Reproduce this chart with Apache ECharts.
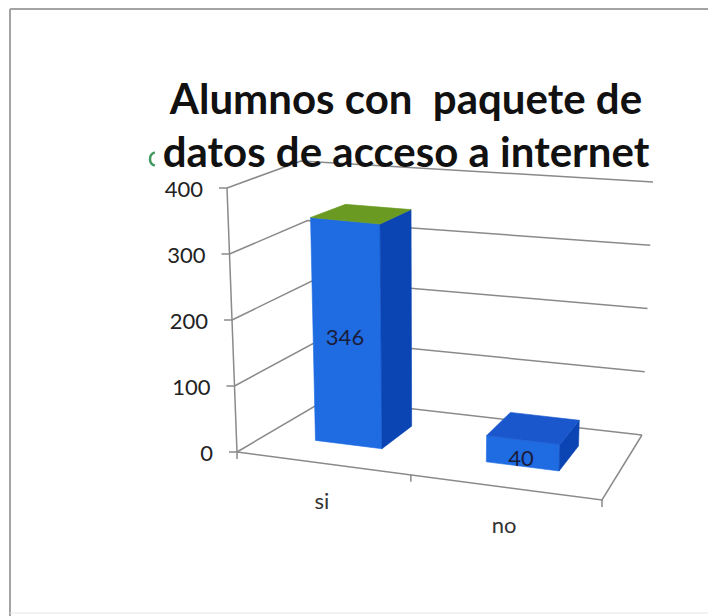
<!DOCTYPE html>
<html>
<head>
<meta charset="utf-8">
<script src="https://cdn.jsdelivr.net/npm/echarts@6/dist/echarts.min.js"></script>
<style>
  html, body { margin: 0; padding: 0; background: #ffffff; }
  #chart { width: 708px; height: 616px; }
</style>
</head>
<body>
<div id="chart"></div>
<script>
// ---- data ----
const categories = ['si', 'no'];
const values = [346, 40];
const yTicks = [0, 100, 200, 300, 400];
const yTickLabels = ['0', '100', '200', '300', '400'];
const titleLines = ['Alumnos con  paquete de', 'datos de acceso a internet'];

// ---- 3D box layout: screen corners of the floor (value 0) and of the top plane (axis max) ----
const box = {
  floor: { fl: [237, 452], fr: [602, 500], br: [642, 435], bl: [327, 399] },
  top:   { fl: [227, 188], fr: [602, 228], br: [653, 182], bl: [301, 161] }
};
const barWidthRatio = 0.4;          // share of a category band taken by a column
const barDepth = [0.3, 0.7];        // front / back of columns inside the box depth
const faceColors = { front: '#1f6be2', side: '#0b45b3' };
const topColors = ['#6a9a22', '#1a57cc'];
const gridColor = '#8a8a8a';
const font = 'Lato, "Open Sans", sans-serif';

// Perspective mapping of the unit square onto a screen quadrilateral
function makeHomography(p0, p1, p2, p3) {
  const dx1 = p1[0] - p2[0], dx2 = p3[0] - p2[0], dx3 = p0[0] - p1[0] + p2[0] - p3[0];
  const dy1 = p1[1] - p2[1], dy2 = p3[1] - p2[1], dy3 = p0[1] - p1[1] + p2[1] - p3[1];
  const den = dx1 * dy2 - dx2 * dy1;
  const g = (dx3 * dy2 - dx2 * dy3) / den;
  const h = (dx1 * dy3 - dx3 * dy1) / den;
  const a = p1[0] - p0[0] + g * p1[0], b = p3[0] - p0[0] + h * p3[0], c = p0[0];
  const d = p1[1] - p0[1] + g * p1[1], e = p3[1] - p0[1] + h * p3[1], f = p0[1];
  return function (u, v) {
    const w = g * u + h * v + 1;
    return [(a * u + b * v + c) / w, (d * u + e * v + f) / w];
  };
}
const floorAt = makeHomography(box.floor.fl, box.floor.fr, box.floor.br, box.floor.bl);

// vertical extent (top minus floor) at each corner, blended across the floor
function rise(key) {
  return [box.top[key][0] - box.floor[key][0], box.top[key][1] - box.floor[key][1]];
}
const R = { fl: rise('fl'), fr: rise('fr'), br: rise('br'), bl: rise('bl') };
function riseAt(u, v, k) {
  return (1 - u) * (1 - v) * R.fl[k] + u * (1 - v) * R.fr[k] + u * v * R.br[k] + (1 - u) * v * R.bl[k];
}

// vanishing point of the verticals (front-left axis meets back-right edge)
const vp = (function () {
  const a = box.floor.fl, b = box.top.fl, c = box.floor.br, d = box.top.br;
  const s1 = (b[0] - a[0]) / (b[1] - a[1]);
  const s2 = (d[0] - c[0]) / (d[1] - c[1]);
  const y = (c[0] - a[0] + s1 * a[1] - s2 * c[1]) / (s1 - s2);
  return [a[0] + s1 * (y - a[1]), y];
})();

// u: across categories (0..1), v: depth (0 front .. 1 back), t: value share (0..1)
function project(u, v, t) {
  const p = floorAt(u, v);
  return [p[0] + riseAt(u, v, 0) * t, p[1] + riseAt(u, v, 1) * t];
}
// columns stand upright towards the vertical vanishing point
function projectColumn(u, v, t) {
  const p = floorAt(u, v);
  const dy = riseAt(u, v, 1) * t;
  const dx = dy * (p[0] - vp[0]) / (p[1] - vp[1]);
  return [p[0] + dx, p[1] + dy];
}

// Convert axis coordinates (from the cartesian grid) into box coordinates
function toBox(params, api, cat, val) {
  const cs = params.coordSys;
  const p = api.coord([cat, val]);
  return {
    u: (p[0] - cs.x) / cs.width,
    t: (cs.y + cs.height - p[1]) / cs.height,
    band: api.size([1, 0])[0] / cs.width
  };
}

function line(points, color, width) {
  return {
    type: 'polyline',
    shape: { points: points },
    style: { stroke: color, lineWidth: width, fill: null },
    silent: true
  };
}

// Walls, gridlines, axis, ticks and axis labels
function renderFrame(params, api) {
  const val = api.value(1);
  const t = toBox(params, api, 0, val).t;
  const children = [];
  const front = project(0, 0, t);
  children.push(line([front, project(0, 1, t), project(1, 1, t)], gridColor, 1.5));
  children.push(line([[front[0] - 8, front[1]], front], gridColor, 1.5));
  children.push({
    type: 'text',
    x: front[0] - 24, y: front[1],
    style: {
      text: yTickLabels[params.dataIndex],
      align: 'right', verticalAlign: 'middle',
      font: '22px ' + font, fill: '#222'
    },
    silent: true
  });
  if (params.dataIndex === 0) {
    // vertical value axis and front / right floor edges
    children.push(line([project(0, 0, 0), project(0, 0, 1)], gridColor, 1.5));
    children.push(line([project(0, 0, 0), project(1, 0, 0), project(1, 1, 0)], gridColor, 1.5));
    // category boundary ticks and labels
    for (let i = 0; i <= categories.length; i++) {
      const c = toBox(params, api, Math.min(i, categories.length - 1), 0);
      const edgeU = i < categories.length ? c.u - c.band / 2 : c.u + c.band / 2;
      const p = project(edgeU, 0, 0);
      children.push(line([p, [p[0], p[1] + 7]], gridColor, 1.5));
    }
    categories.forEach(function (name, i) {
      const c = toBox(params, api, i, 0);
      const p = project(c.u, 0, 0);
      children.push({
        type: 'text',
        x: p[0], y: p[1] + 37,
        style: {
          text: name, align: 'center', verticalAlign: 'middle',
          font: '22px ' + font, fill: '#333'
        },
        silent: true
      });
    });
  }
  return { type: 'group', children: children };
}

// 3D columns with their value labels
function renderBar(params, api) {
  const i = api.value(0);
  const val = api.value(1);
  const b = toBox(params, api, i, val);
  const half = b.band * barWidthRatio / 2;
  const u0 = b.u - half, u1 = b.u + half;
  const v0 = barDepth[0], v1 = barDepth[1];
  const t = b.t;
  const P = projectColumn;
  const frontPts = [P(u0, v0, 0), P(u1, v0, 0), P(u1, v0, t), P(u0, v0, t)];
  const sidePts = [P(u1, v0, 0), P(u1, v1, 0), P(u1, v1, t), P(u1, v0, t)];
  const topPts = [P(u0, v0, t), P(u1, v0, t), P(u1, v1, t), P(u0, v1, t)];
  const face = function (pts, color) {
    return {
      type: 'polygon',
      shape: { points: pts },
      style: { fill: color, stroke: color, lineWidth: 0.6 }
    };
  };
  let cx = 0, cy = 0;
  frontPts.forEach(function (p) { cx += p[0] / 4; cy += p[1] / 4; });
  return {
    type: 'group',
    children: [
      face(frontPts, faceColors.front),
      face(sidePts, faceColors.side),
      face(topPts, topColors[params.dataIndex % topColors.length]),
      {
        type: 'text',
        x: cx - 2, y: cy + 4,
        style: {
          text: String(val), align: 'center', verticalAlign: 'middle',
          font: '22px ' + font, fill: '#1a1d3a'
        }
      }
    ]
  };
}

const chart = echarts.init(document.getElementById('chart'), null, { renderer: 'svg' });
chart.setOption({
  animation: false,
  backgroundColor: '#ffffff',
  title: {
    text: titleLines.join('\n'),
    left: 406,
    top: 71,
    padding: 0,
    textAlign: 'center',
    textStyle: {
      fontFamily: font,
      fontWeight: 'bold',
      fontSize: 42,
      lineHeight: 53,
      color: '#111'
    }
  },
  grid: { left: 0, right: 0, top: 0, bottom: 0 },
  xAxis: { type: 'category', data: categories, show: false },
  yAxis: { type: 'value', min: 0, max: 400, interval: 100, show: false },
  graphic: [
    { type: 'line', shape: { x1: 10, y1: 9, x2: 708, y2: 9 }, style: { stroke: '#a3a3a3', lineWidth: 2 } },
    { type: 'line', shape: { x1: 10, y1: 9, x2: 10, y2: 616 }, style: { stroke: '#a3a3a3', lineWidth: 2 } },
    { type: 'line', shape: { x1: 10, y1: 613, x2: 708, y2: 613 }, style: { stroke: '#e6e6e6', lineWidth: 1 } },
    { type: 'arc', shape: { cx: 157, cy: 159, r: 7, startAngle: Math.PI * 0.6, endAngle: Math.PI * 1.4 },
      style: { stroke: '#3f9a5c', lineWidth: 2.5, fill: null } }
  ],
  series: [
    {
      type: 'custom',
      name: 'frame',
      coordinateSystem: 'cartesian2d',
      clip: false,
      z: 1,
      data: yTicks.map(function (v) { return [0, v]; }),
      encode: { x: 0, y: 1 },
      renderItem: renderFrame
    },
    {
      type: 'custom',
      name: 'Alumnos',
      coordinateSystem: 'cartesian2d',
      clip: false,
      z: 2,
      data: values.map(function (v, i) { return [i, v]; }),
      encode: { x: 0, y: 1 },
      renderItem: renderBar
    }
  ]
});
</script>
</body>
</html>
